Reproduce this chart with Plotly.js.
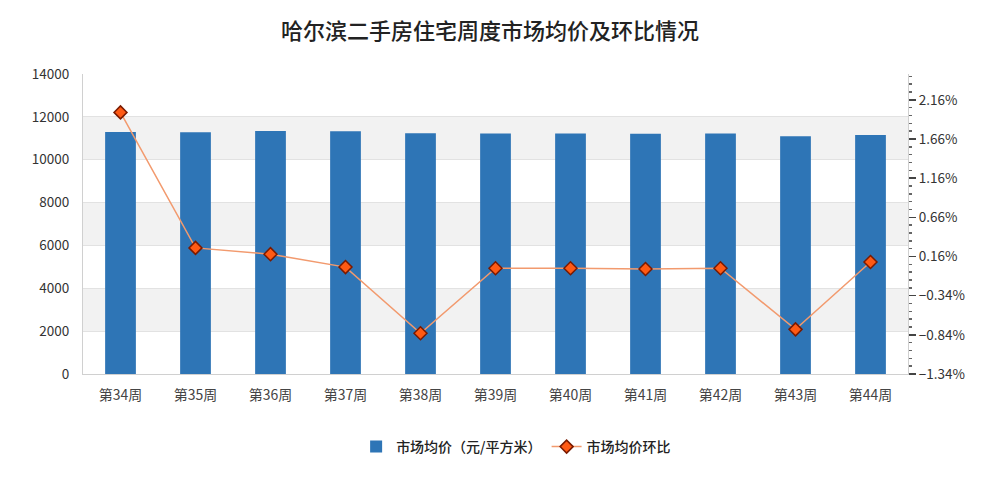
<!DOCTYPE html>
<html>
<head>
<meta charset="utf-8">
<script src="https://cdn.plot.ly/plotly-3.0.1.min.js"></script>
<style>html,body{margin:0;padding:0;background:#fff;}#chart{width:1000px;height:488px;}</style>
</head>
<body>
<div id="chart"></div>
<script>
const weeks = ["第34周","第35周","第36周","第37周","第38周","第39周","第40周","第41周","第42周","第43周","第44周"];
const avgPrice = [11290, 11280, 11340, 11330, 11230, 11220, 11220, 11210, 11220, 11100, 11150];
const momChange = [2.00, 0.27, 0.19, 0.025, -0.82, 0.01, 0.01, 0.00, 0.01, -0.77, 0.09];
const leftTicks = [0, 2000, 4000, 6000, 8000, 10000, 12000, 14000];
const seriesNames = ["市场均价（元/平方米）", "市场均价环比"];
const titleText = "哈尔滨二手房住宅周度市场均价及环比情况";

const font = "'Noto Sans CJK SC', 'Noto Sans', sans-serif";

// alternating background bands between left-axis ticks
const shapes = [];
for (let i = 1; i < leftTicks.length - 1; i += 2) {
  shapes.push({type:'rect', xref:'paper', yref:'y', x0:0, x1:1,
    y0: leftTicks[i], y1: leftTicks[i+1], fillcolor:'#f2f2f2', line:{width:0}, layer:'below'});
}

const traces = [
  {type:'bar', x:weeks, y:avgPrice, name:seriesNames[0],
   marker:{color:'#2e75b6', line:{width:0}}, yaxis:'y'},
  {type:'scatter', mode:'lines+markers', x:weeks, y:momChange, name:seriesNames[1],
   yaxis:'y2', line:{color:'#f29a6e', width:1.5},
   marker:{symbol:'diamond', size:10, color:'#ff5a14', line:{color:'#7a1a00', width:1.5}}}
];

const layout = {
  width:1000, height:488,
  margin:{l:83, r:92, t:74, b:114},
  paper_bgcolor:'#fff', plot_bgcolor:'rgba(0,0,0,0)',
  font:{family:font, color:'#333', size:13},
  title:{text:titleText, x:0.49, xanchor:'center', y:0.935, yanchor:'middle',
         font:{family:font, size:22, color:'#222', weight:500}},
  bargap:0.59,
  shapes:shapes,
  showlegend:true,
  legend:{orientation:'h', x:0.525, xanchor:'center', y:-0.19, yanchor:'top',
          font:{family:font, size:14, color:'#222', weight:500}, itemwidth:30, tracegroupgap:0},
  xaxis:{type:'category', range:[-0.5, weeks.length - 0.5], showline:true, linecolor:'#d0d0d0', linewidth:1,
         ticks:'', ticklabelstandoff:8, tickfont:{family:font, size:14, color:'#444'}, fixedrange:true},
  yaxis:{range:[0,14000], tickvals:leftTicks, tickformat:'d', showgrid:true, gridcolor:'#e2e2e2',
         showline:true, linecolor:'#d0d0d0', zeroline:false, ticks:'',
         tickfont:{family:font, size:13.5, color:'#333'}, ticklabelstandoff:10},
  yaxis2:{overlaying:'y', side:'right', range:[-1.34, 2.49], tick0:-1.34, dtick:0.5,
          tickformat:'.2f', ticksuffix:'%', showgrid:false, zeroline:false,
          showline:true, linecolor:'#d0d0d0',
          ticks:'outside', ticklen:7, tickcolor:'#444', tickwidth:1.5,
          minor:{dtick:0.1, tick0:-1.34, ticks:'outside', ticklen:3, tickcolor:'#666', tickwidth:1.5, showgrid:false},
          tickfont:{family:font, size:13.5, color:'#333'}}
};

Plotly.newPlot('chart', traces, layout, {displayModeBar:false, staticPlot:true});
</script>
</body>
</html>
